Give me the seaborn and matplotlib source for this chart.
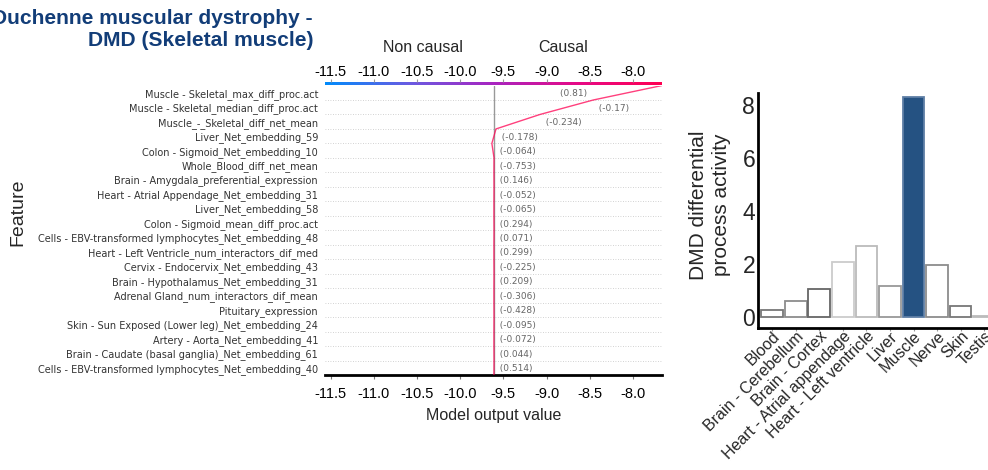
import numpy as np
import pandas as pd
import matplotlib
matplotlib.use("Agg")
import matplotlib.pyplot as plt
import seaborn as sns
from matplotlib.colors import LinearSegmentedColormap

# ---------------- data: decision plot (top to bottom) ----------------
features = [
    "Muscle - Skeletal_max_diff_proc.act",
    "Muscle - Skeletal_median_diff_proc.act",
    "Muscle_-_Skeletal_diff_net_mean",
    "Liver_Net_embedding_59",
    "Colon - Sigmoid_Net_embedding_10",
    "Whole_Blood_diff_net_mean",
    "Brain - Amygdala_preferential_expression",
    "Heart - Atrial Appendage_Net_embedding_31",
    "Liver_Net_embedding_58",
    "Colon - Sigmoid_mean_diff_proc.act",
    "Cells - EBV-transformed lymphocytes_Net_embedding_48",
    "Heart - Left Ventricle_num_interactors_dif_med",
    "Cervix - Endocervix_Net_embedding_43",
    "Brain - Hypothalamus_Net_embedding_31",
    "Adrenal Gland_num_interactors_dif_mean",
    "Pituitary_expression",
    "Skin - Sun Exposed (Lower leg)_Net_embedding_24",
    "Artery - Aorta_Net_embedding_41",
    "Brain - Caudate (basal ganglia)_Net_embedding_61",
    "Cells - EBV-transformed lymphocytes_Net_embedding_40",
]
feature_values = [0.81, -0.17, -0.234, -0.178, -0.064, -0.753, 0.146, -0.052,
                  -0.065, 0.294, 0.071, 0.299, -0.225, 0.209, -0.306, -0.428,
                  -0.095, -0.072, 0.044, 0.514]
shap_values = [0.796, 0.617, 0.510, 0.048, -0.025, 0.001, -0.001, 0.001,
               0.0, -0.001, 0.001, 0.0, -0.001, 0.001, 0.0, -0.001,
               0.001, 0.0, -0.001, 0.001]
base_value = -9.61
x_ticks = [-11.5, -11.0, -10.5, -10.0, -9.5, -9.0, -8.5, -8.0]
x_range = (-11.566, -7.664)

# ---------------- data: bar chart ----------------
tissues = ["Blood", "Brain - Cerebellum", "Brain - Cortex", "Heart - Atrial appendage",
           "Heart - Left ventricle", "Liver", "Muscle", "Nerve", "Skin", "Testis"]
activity = [0.29, 0.62, 1.05, 2.09, 2.68, 1.18, 8.31, 1.99, 0.42, 0.04]
highlight = "Muscle"
y_ticks_bar = [0, 2, 4, 6, 8]

# ---------------- style ----------------
sns.set_theme(style="white")
plt.rcParams["font.family"] = ["Liberation Sans", "DejaVu Sans"]
plt.rcParams["axes.unicode_minus"] = False

W, H = 988, 470
fig = plt.figure(figsize=(W / 100, H / 100), dpi=100)

def fx(px):
    return px / W

def fy(py):
    return 1 - py / H

# ---------------- decision plot ----------------
ax = fig.add_axes([fx(325), fy(375), fx(662) - fx(325), (375 - 85.5) / H])
n = len(features)
contrib_bottom_up = shap_values[::-1]
cum = np.concatenate([[base_value], base_value + np.cumsum(contrib_bottom_up)])
levels = np.arange(n + 1)
line_df = pd.DataFrame({"output": cum, "level": levels})
sns.lineplot(data=line_df, x="output", y="level", sort=False, estimator=None,
             color="#ff0052", alpha=0.75, lw=1.0, ax=ax, zorder=3)
ax.axvline(base_value, color="#999999", lw=1.0, zorder=1)
for i in range(1, n):
    ax.axhline(i, color="#c4c4c4", lw=0.6, dashes=(1, 2), zorder=0)

ax.set_xlim(*x_range)
ax.set_ylim(0, n)
ax.set_yticks(np.arange(n) + 0.5)
ax.set_yticklabels(features[::-1], fontsize=7, color="#333333", family="DejaVu Sans")
ax.tick_params(axis="y", length=0, pad=5)
ax.set_xticks(x_ticks)
ax.set_xticklabels([f"{t:.1f}" for t in x_ticks], fontsize=10.5, color="black")
ax.tick_params(axis="x", length=3, width=0.8, color="#777777", pad=5.5, direction="out", bottom=True)
for s in ["left", "right", "top"]:
    ax.spines[s].set_visible(False)
ax.spines["bottom"].set_linewidth(2)
ax.spines["bottom"].set_color("black")
ax.set_xlabel("Model output value", fontsize=11.5, labelpad=5)
ax.set_ylabel("Feature", fontsize=14, va="center")
ax.yaxis.set_label_coords((18 - 325) / 337, 0.563)

# colour bar on top
cmap = LinearSegmentedColormap.from_list(
    "redblue", ["#008bfb", "#6a5be2", "#a824c0", "#e60a86", "#ff0052"])
cax = fig.add_axes([fx(325), fy(85), fx(662) - fx(325), 3.5 / H])
grad = np.linspace(0, 1, 256).reshape(1, -1)
cax.imshow(grad, aspect="auto", cmap=cmap, extent=(x_range[0], x_range[1], 0, 1))
cax.set_xlim(*x_range)
cax.set_yticks([])
cax.xaxis.tick_top()
cax.set_xticks(x_ticks)
cax.set_xticklabels([f"{t:.1f}" for t in x_ticks], fontsize=10.5, color="black")
cax.tick_params(axis="x", length=2, width=0.8, color="#999999", pad=-0.5)
for s in cax.spines.values():
    s.set_visible(False)

fig.text(fx(423), fy(48), "Non causal", fontsize=11.5, ha="center", va="center")
fig.text(fx(563), fy(48), "Causal", fontsize=11.5, ha="center", va="center")

# feature value annotations (shap decision-plot placement rule)
fig.canvas.draw()
renderer = fig.canvas.get_renderer()
inv = ax.transData.inverted()
vals_bottom_up = feature_values[::-1]
for i in range(n):
    v = "({})".format(f"{vals_bottom_up[i]:,.3f}".rstrip("0").rstrip("."))
    t = ax.text(max(cum[i], cum[i + 1]), i + 0.5, "  " + v, fontsize=6.5,
                ha="left", va="center_baseline", color="#666666", family="DejaVu Sans")
    bb = inv.transform_bbox(t.get_window_extent(renderer=renderer))
    if bb.xmax > x_range[1]:
        t.set_text(v + "  ")
        t.set_x(min(cum[i], cum[i + 1]))
        t.set_horizontalalignment("right")

# title
fig.text(fx(313), fy(29.5), "Duchenne muscular dystrophy -\nDMD (Skeletal muscle)",
         ha="right", va="center", ma="right", fontsize=15.1, weight="bold",
         color="#123d78", linespacing=1.22)

# ---------------- bar chart ----------------
ax2 = fig.add_axes([fx(758), fy(328), (996 - 758) / W, (328 - 93) / H])
bar_df = pd.DataFrame({"tissue": tissues, "activity": activity})
fills = {t: ("#255282" if t == highlight else "white") for t in tissues}
edge_colors = ["#777777", "#8c8c8c", "#666666", "#cccccc", "#bbbbbb",
               "#999999", "#5f7fa6", "#8c8c8c", "#777777", "#bbbbbb"]
sns.barplot(data=bar_df, x="tissue", y="activity", hue="tissue", palette=fills,
            legend=False, width=0.92, saturation=1, ax=ax2)
for p, ec in zip(ax2.patches, edge_colors):
    p.set_edgecolor(ec)
    p.set_linewidth(1.3)
ax2.set_xlim(-0.6, len(tissues) - 0.5)
ax2.set_ylim(-0.40, 8.45)
ax2.set_yticks(y_ticks_bar)
ax2.set_yticklabels([str(t) for t in y_ticks_bar], fontsize=16.5)
ax2.tick_params(axis="y", length=0, pad=2)
ax2.tick_params(axis="x", length=2.5, width=0.8, color="#999999", pad=-2, bottom=True)
ax2.set_xticks(range(len(tissues)))
ax2.set_xticklabels(tissues, rotation=45, ha="right", rotation_mode="anchor", fontsize=11.5)
ax2.set_xlabel("")
for s in ["top", "right"]:
    ax2.spines[s].set_visible(False)
for s in ["left", "bottom"]:
    ax2.spines[s].set_linewidth(2)
    ax2.spines[s].set_color("black")
ax2.set_ylabel("DMD differential\nprocess activity", fontsize=15, va="center", linespacing=1.3)
ax2.yaxis.set_label_coords((710 - 758) / 238, 1 - (205 - 93) / 235)

fig.savefig("out.png", dpi=100)
